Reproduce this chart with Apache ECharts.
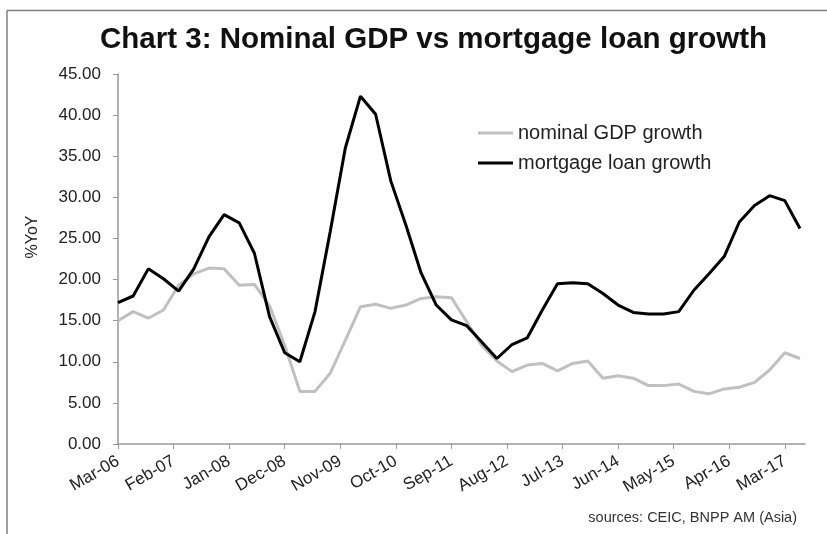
<!DOCTYPE html>
<html>
<head>
<meta charset="utf-8">
<script src="https://cdn.jsdelivr.net/npm/echarts@6/dist/echarts.min.js"></script>
<style>
html,body{margin:0;padding:0;background:#fff;}
#chart{width:827px;height:534px;}
</style>
</head>
<body>
<div id="chart"></div>
<script>
// Quarterly observations, Mar-06 .. Jun-17
var startYear = 2006, startMonth = 2; // March (0-based)
var monthsOnAxis = 137; // Mar-06 .. Jul-17 (monthly date axis)
var gdpGrowth = [15.0,16.1,15.3,16.3,19.3,20.7,21.4,21.3,19.3,19.4,16.8,12.0,6.4,6.4,8.6,12.6,16.7,17.0,16.5,16.9,17.7,17.9,17.8,14.9,12.0,10.1,8.8,9.6,9.8,8.9,9.8,10.1,8.0,8.3,8.0,7.1,7.1,7.3,6.4,6.1,6.7,6.9,7.5,9.0,11.1,10.4];
var mortgageGrowth = [17.2,18.0,21.3,20.1,18.6,21.3,25.2,27.9,26.9,23.2,15.5,11.1,10.0,16.1,25.8,36.0,42.3,40.1,32.0,26.6,20.8,16.9,15.1,14.4,12.4,10.4,12.1,12.9,16.3,19.5,19.6,19.5,18.3,16.9,16.0,15.8,15.8,16.1,18.7,20.7,22.8,27.0,29.0,30.2,29.6,26.2];
var yTicks = [0,5,10,15,20,25,30,35,40,45];
var seriesNames = ['nominal GDP growth','mortgage loan growth'];

var monNames = ['Jan','Feb','Mar','Apr','May','Jun','Jul','Aug','Sep','Oct','Nov','Dec'];
var categories = [];
for (var i = 0; i < monthsOnAxis; i++) {
  var m = startMonth + i;
  var y = startYear + Math.floor(m / 12);
  categories.push(monNames[m % 12] + '-' + String(y % 100).padStart(2, '0'));
}
function toMonthly(q) {
  var out = new Array(monthsOnAxis).fill(null);
  q.forEach(function (v, k) { out[k * 3] = v; });
  return out;
}

var chart = echarts.init(document.getElementById('chart'), null, {renderer: 'canvas'});
var FONT = '"Liberation Sans", Arial, sans-serif';
chart.setOption({
  animation: false,
  backgroundColor: '#fff',
  title: {
    text: 'Chart 3: Nominal GDP vs mortgage loan growth',
    left: 95,
    top: 20,
    textStyle: {fontFamily: FONT, fontSize: 29.5, fontWeight: 'bold', color: '#111'}
  },
  graphic: [
    {type: 'line', shape: {x1: 7, y1: 10.5, x2: 827, y2: 10.5}, style: {stroke: '#808080', lineWidth: 1.5}},
    {type: 'line', shape: {x1: 7, y1: 10.5, x2: 7, y2: 534}, style: {stroke: '#808080', lineWidth: 1.5}},
    {type: 'text', x: 797, y: 518, style: {text: 'sources: CEIC, BNPP AM (Asia)', font: '14.5px ' + FONT, fill: '#333', align: 'right', verticalAlign: 'middle'}},
    {type: 'text', x: 33, y: 237, rotation: Math.PI / 2, style: {text: '%YoY', font: '16px ' + FONT, fill: '#222', align: 'center', verticalAlign: 'middle'}}
  ],
  legend: {
    orient: 'vertical',
    left: 473,
    top: 118,
    icon: 'rect',
    itemWidth: 35,
    itemHeight: 3,
    itemGap: 10,
    data: seriesNames,
    textStyle: {fontFamily: FONT, fontSize: 20, color: '#222'}
  },
  grid: {left: 118, right: 22, top: 74, bottom: 90, containLabel: false},
  xAxis: {
    type: 'category',
    data: categories,
    boundaryGap: false,
    axisLine: {lineStyle: {color: '#999', width: 1.5}},
    axisTick: {interval: 10, length: 5, lineStyle: {color: '#999'}},
    axisLabel: {interval: 10, rotate: 30, margin: 16, fontFamily: FONT, fontSize: 17, color: '#222'},
    splitLine: {show: false}
  },
  yAxis: {
    type: 'value',
    min: yTicks[0],
    max: yTicks[yTicks.length - 1],
    interval: 5,
    axisLine: {show: true, lineStyle: {color: '#999', width: 1.5}},
    axisTick: {show: true, length: 5, lineStyle: {color: '#999'}},
    axisLabel: {margin: 17, fontFamily: FONT, fontSize: 17, color: '#222', formatter: function (v) { return v.toFixed(2); }},
    splitLine: {show: false}
  },
  series: [
    {name: seriesNames[0], type: 'line', data: toMonthly(gdpGrowth), connectNulls: true, symbol: 'none',
     lineStyle: {color: '#c0c0c0', width: 3}, itemStyle: {color: '#c0c0c0'}, z: 2},
    {name: seriesNames[1], type: 'line', data: toMonthly(mortgageGrowth), connectNulls: true, symbol: 'none',
     lineStyle: {color: '#000', width: 3}, itemStyle: {color: '#000'}, z: 3}
  ]
});
</script>
</body>
</html>
